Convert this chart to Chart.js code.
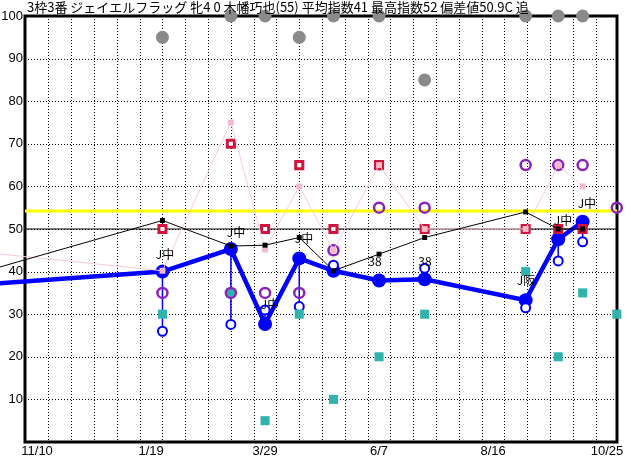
<!DOCTYPE html>
<html>
<head>
<meta charset="utf-8">
<script src="https://cdn.jsdelivr.net/npm/chart.js@4.4.0/dist/chart.umd.min.js"></script>
<style>
html, body { margin: 0; padding: 0; background: #fff; }
#wrap { width: 632px; height: 460px; }
</style>
</head>
<body>
<div id="wrap"><canvas id="chart" width="632" height="460"></canvas></div>
<script>
// header line
const titleText = '3枠3番 ジェイエルフラッグ 牝4 0 木幡巧也(55) 平均指数41 最高指数52 偏差値50.9C 追';

// x axis: days counted from 11/10
const tickDays = [0, 70, 140, 210, 280, 350];
const tickLabels = ['11/10', '1/19', '3/29', '6/7', '8/16', '10/25'];

// one entry per race
const raceDays   = [77, 119, 140, 161, 182, 210, 238, 300, 320, 335, 356];
const indexVals  = [40, 45.3, 27.7, 43.1, 40.2, 37.9, 38.2, 33.3, 47.6, 51.7, null];
const lowVals    = [26, 27.6, 31, 31.8, 41.5, null, 40.8, 31.5, 42.5, 47, null];
const blackVals  = [52, 46, 46.2, 48, 40.2, 44.1, 48, 54, 50, 50, null];
const pinkVals   = [40.2, 75, 45.2, 60, 45, 65, 50, 50, 65, 60, null];
const redVals    = [50, 70, 50, 65, 50, 65, 50, 50, 50, 50, null];
const purpleVals = [35, 35, 35, 35, 45, 55, 55, 65, 65, 65, 55];
const tealVals   = [30, 35, 5, 30, 10, 20, 30, 40, 20, 35, 30];
const grayVals   = [95, 100, 100, 95, 100, 100, 85, 100, 100, 100, null];

// race before the window (lines come in from the left edge)
const prevDay = -40;
const prevIndex = 36.8, prevBlack = 39.2, prevPink = 44.8;

const avgLevel = 54.2;
const baseLevel = 50;

// small notes next to the races
const noteTexts = ['J中', 'J中', 'J中', 'J中', '38', '38', 'J阪', 'J中', 'J中'];
const noteDays  = [78.6, 122.2, 143.0, 163.9, 207.5, 238.2, 300.2, 322.9, 337.6];
const noteVals  = [44.1, 49.2, 32.2, 47.9, 42.3, 42.3, 38, 52.1, 55.9];

const pts = vals => raceDays.map((d, i) => ({x: d, y: vals[i]})).filter(p => p.y !== null);
const withPrev = (v, vals) => [{x: prevDay, y: v}].concat(pts(vals));

const stems = [];
raceDays.forEach((d, i) => {
  if (lowVals[i] !== null && indexVals[i] !== null) {
    stems.push({x: d, y: indexVals[i]}, {x: d, y: lowVals[i]}, {x: d, y: null});
  }
});

const X_MIN = -7.4, X_MAX = 356.1;
const FONT = '"Liberation Sans", Arial, sans-serif';

const decor = {
  id: 'decor',
  beforeDatasetsDraw(chart) {
    const {ctx, chartArea: a, scales: {x, y}} = chart;
    ctx.save();
    // dotted grid: every 14 days (offset a week from the labels), every 10 points
    ctx.strokeStyle = '#000';
    ctx.lineWidth = 1;
    ctx.setLineDash([1, 2]);
    ctx.beginPath();
    for (let d = 7; d < X_MAX; d += 14) {
      const px = Math.round(x.getPixelForValue(d)) + 0.5;
      ctx.moveTo(px, a.top);
      ctx.lineTo(px, a.bottom);
    }
    for (let v = 10; v < 100; v += 10) {
      const py = Math.round(y.getPixelForValue(v)) + 0.5;
      ctx.moveTo(a.left, py);
      ctx.lineTo(a.right, py);
    }
    ctx.stroke();
    ctx.setLineDash([]);
    ctx.lineWidth = 3;
    ctx.strokeRect(a.left, a.top, a.right - a.left, a.bottom - a.top);
    ctx.restore();
  },
  afterDatasetsDraw(chart) {
    const {ctx, scales: {x, y}} = chart;
    ctx.save();
    ctx.fillStyle = '#000';
    ctx.textAlign = 'center';
    ctx.textBaseline = 'middle';
    ctx.font = '12px "Noto Sans CJK JP"';
    noteTexts.forEach((t, i) => {
      ctx.fillText(t, x.getPixelForValue(noteDays[i]), y.getPixelForValue(noteVals[i]));
    });
    ctx.textAlign = 'left';
    ctx.font = '13px "Noto Sans CJK JP"';
    ctx.fillText(titleText, 27, 7);
    ctx.restore();
  }
};

const marker = (label, data, style, radius, color, fill, bw, order) => ({
  label, data, showLine: false, order, clip: false,
  pointStyle: style, pointRadius: radius, pointHoverRadius: radius,
  pointBorderColor: color, pointBackgroundColor: fill, pointBorderWidth: bw
});

const config = {
  type: 'line',
  data: {
    datasets: [
      {
        label: 'black', data: withPrev(prevBlack, blackVals), order: 0, clip: false,
        borderColor: '#000', borderWidth: 1, pointStyle: 'rect', pointRadius: 3.5,
        pointBackgroundColor: '#000', pointBorderColor: '#000', pointBorderWidth: 0
      },
      {
        label: 'pink', data: withPrev(prevPink, pinkVals), order: 1, clip: false,
        borderColor: '#f7cbd6', borderWidth: 1, pointStyle: 'rect', pointRadius: 4.2,
        pointBackgroundColor: '#f6b9c9', pointBorderColor: '#f6b9c9', pointBorderWidth: 0
      },
      marker('red', pts(redVals), 'rect', 5, '#d0143c', '#fff', 3, 2),
      marker('purple', pts(purpleVals), 'circle', 5, '#8b22b8', 'rgba(0,0,0,0)', 2.5, 3),
      marker('teal', pts(tealVals), 'rect', 6.4, '#2fb3ac', '#2fb3ac', 0, 4),
      marker('low', pts(lowVals), 'circle', 4.5, '#0000ff', '#fff', 2, 5),
      {
        label: 'index', data: withPrev(prevIndex, indexVals), order: 6, clip: false,
        borderColor: '#0000ff', borderWidth: 4.5, pointStyle: 'circle', pointRadius: 7,
        pointBackgroundColor: '#0000ff', pointBorderColor: '#0000ff', pointBorderWidth: 0
      },
      {
        label: 'stem', data: stems, order: 7, clip: false, spanGaps: false,
        borderColor: '#0000ff', borderWidth: 1.5, pointRadius: 0
      },
      marker('gray', pts(grayVals), 'circle', 6.5, '#8a8a8a', '#8a8a8a', 0, 8),
      {
        label: 'avg', data: [{x: X_MIN, y: avgLevel}, {x: X_MAX, y: avgLevel}], order: 9,
        borderColor: '#ffff00', borderWidth: 3, pointRadius: 0
      },
      {
        label: 'base', data: [{x: X_MIN, y: baseLevel}, {x: X_MAX, y: baseLevel}], order: 10,
        borderColor: '#000', borderWidth: 1, pointRadius: 0
      }
    ]
  },
  options: {
    responsive: false,
    animation: false,
    events: [],
    layout: { padding: { top: 16, right: 15, left: 0, bottom: 0 } },
    plugins: { legend: { display: false }, tooltip: { enabled: false }, title: { display: false } },
    scales: {
      x: {
        type: 'linear', min: X_MIN, max: X_MAX,
        afterBuildTicks: s => {
          const t = [];
          for (let v = -7; v <= X_MAX; v += 7) t.push({value: v});
          s.ticks = t;
        },
        afterFit: s => { s.height = 18; },
        ticks: {
          autoSkip: false, maxRotation: 0, padding: 2, color: '#000',
          font: { family: FONT, size: 13 },
          callback: v => { const k = tickDays.indexOf(v); return k >= 0 ? tickLabels[k] : ''; }
        },
        grid: { display: false, drawTicks: false },
        border: { display: false }
      },
      y: {
        min: 0, max: 100,
        afterFit: s => { s.width = 25; },
        ticks: {
          stepSize: 10, padding: 2, color: '#000',
          font: { family: FONT, size: 13 },
          callback: v => v === 0 ? '' : v
        },
        grid: { display: false, drawTicks: false },
        border: { display: false }
      }
    }
  },
  plugins: [decor]
};

const myChart = new Chart(document.getElementById('chart'), config);
</script>
</body>
</html>
